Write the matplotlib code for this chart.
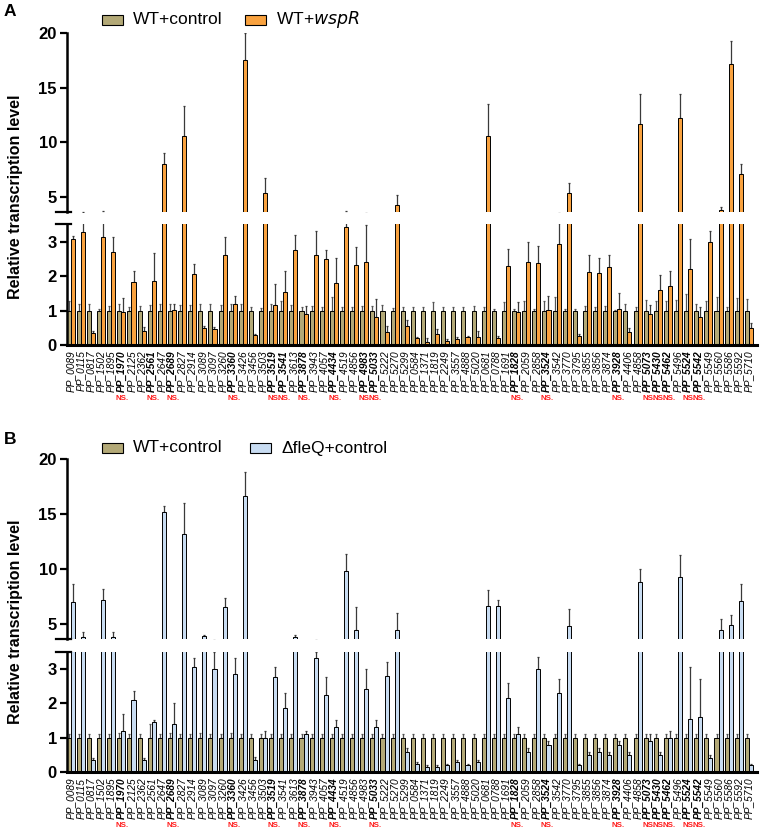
import matplotlib
matplotlib.use("Agg")
import matplotlib.pyplot as plt
from matplotlib.patches import Rectangle
from matplotlib.transforms import blended_transform_factory

plt.rcParams['font.family'] = ['Liberation Sans', 'DejaVu Sans']

genes = ["0089", "0115", "0817", "1502", "1895", "1970", "2125", "2362", "2561", "2647",
         "2689", "2827", "2914", "3089", "3097", "3260", "3360", "3426", "3456", "3503",
         "3519", "3541", "3613", "3878", "3943", "4057", "4434", "4519", "4856", "4983",
         "5033", "5222", "5270", "5299", "0584", "1371", "1819", "2249", "3557", "4888",
         "5020", "0681", "0788", "1691", "1828", "2059", "2858", "3524", "3542", "3770",
         "3795", "3855", "3856", "3874", "3928", "4406", "4858", "5073", "5430", "5462",
         "5496", "5524", "5542", "5549", "5560", "5586", "5592", "5710"]

ns_A = ["1970", "2561", "2689", "3360", "3519", "3541", "3878", "4434", "4983", "5033",
        "1828", "3524", "3928", "5073", "5430", "5462", "5524", "5542"]
ns_B = ["1970", "2689", "3360", "3519", "3878", "4434", "5033",
        "1828", "3524", "3928", "5073", "5430", "5462", "5524", "5542"]

control = [1.0, 1.0, 1.0, 1.0, 1.0, 1.0, 1.0, 1.0, 1.0, 1.0, 1.0, 1.0, 1.0, 1.0, 1.0, 1.0, 1.0,
           1.0, 1.0, 1.0, 1.0, 1.0, 1.0, 1.0, 1.0, 1.0, 1.0, 1.0, 1.0, 1.0, 1.0, 1.0, 1.0, 1.0,
           1.0, 1.0, 1.0, 1.0, 1.0, 1.0, 1.0, 1.0, 1.0, 1.0, 1.0, 1.0, 1.0, 1.0, 1.0, 1.0, 1.0,
           1.0, 1.0, 1.0, 1.0, 1.0, 1.0, 1.0, 1.0, 1.0, 1.0, 1.0, 1.0, 1.0, 1.0, 1.0, 1.0, 1.0]

ctrl_err_A = [0.27, 0.18, 0.18, 0.03, 0.13, 0.2, 0.1, 0.13, 0.15, 0.2,
              0.2, 0.17, 0.15, 0.18, 0.2, 0.15, 0.2, 0.18, 0.1, 0.08,
              0.2, 0.28, 0.15, 0.1, 0.12, 0.1, 0.38, 0.1, 0.1, 0.13,
              0.13, 0.15, 0.08, 0.1, 0.1, 0.1, 0.25, 0.1, 0.1, 0.1,
              0.13, 0.1, 0.05, 0.25, 0.05, 0.27, 0.05, 0.27, 0.38, 0.05,
              0.05, 0.13, 0.1, 0.13, 0.02, 0.2, 0.1, 0.3, 0.27, 0.27,
              0.3, 0.48, 0.2, 0.28, 0.4, 0.1, 0.37, 0.33]
wspR = [3.07, 3.28, 0.34, 3.12, 2.7, 0.95, 1.83, 0.42, 1.86, 8.0,
        1.02, 10.6, 2.06, 0.49, 0.46, 2.6, 1.2, 17.5, 0.3, 5.3,
        1.15, 1.54, 2.76, 0.91, 2.62, 2.48, 1.81, 3.43, 2.33, 2.42,
        0.8, 0.37, 4.2, 0.54, 0.2, 0.1, 0.31, 0.12, 0.18, 0.22,
        0.22, 10.6, 0.2, 2.28, 0.95, 2.42, 2.37, 1.01, 2.94, 5.3,
        0.26, 2.11, 2.08, 2.25, 1.03, 0.39, 11.7, 0.91, 1.59, 1.71,
        12.2, 2.19, 0.81, 2.99, 3.75, 17.2, 7.1, 0.49]
wspR_err = [0.08, 0.35, 0.06, 0.6, 0.44, 0.41, 0.33, 0.1, 0.81, 1.0,
            0.18, 2.7, 0.29, 0.06, 0.07, 0.54, 0.22, 2.5, 0.03, 1.4,
            0.61, 0.62, 0.44, 0.22, 0.69, 0.27, 0.72, 0.3, 0.51, 1.06,
            0.52, 0.19, 1.0, 0.18, 0.04, 0.1, 0.15, 0.04, 0.04, 0.03,
            0.2, 2.9, 0.05, 0.49, 0.3, 0.57, 0.5, 0.41, 0.59, 1.0,
            0.06, 0.51, 0.45, 0.35, 0.47, 0.1, 2.7, 0.24, 0.45, 0.45,
            2.2, 0.88, 0.3, 0.32, 0.3, 2.1, 0.9, 0.15]

ctrl_err_B = [0.12, 0.1, 0.1, 0.1, 0.1, 0.15, 0.1, 0.1, 0.4, 0.1,
              0.15, 0.1, 0.1, 0.15, 0.1, 0.1, 0.15, 0.1, 0.1, 0.1,
              0.1, 0.1, 0.1, 0.1, 0.1, 0.1, 0.1, 0.1, 0.1, 0.1,
              0.1, 0.1, 0.1, 0.1, 0.1, 0.1, 0.1, 0.1, 0.1, 0.1,
              0.1, 0.1, 0.1, 0.1, 0.1, 0.1, 0.1, 0.1, 0.1, 0.1,
              0.1, 0.1, 0.1, 0.1, 0.1, 0.1, 0.1, 0.1, 0.1, 0.1,
              0.1, 0.1, 0.1, 0.1, 0.1, 0.1, 0.1, 0.1]
fleQ = [7.0, 3.8, 0.35, 7.2, 3.8, 1.2, 2.1, 0.35, 1.45, 15.2,
        1.4, 13.2, 3.05, 3.9, 3.0, 6.5, 2.85, 16.7, 0.35, 1.0,
        2.75, 1.85, 3.8, 1.1, 3.3, 2.25, 1.3, 9.8, 4.4, 2.4,
        1.3, 2.8, 4.4, 0.6, 0.25, 0.15, 0.15, 0.2, 0.3, 0.2,
        0.3, 6.6, 6.6, 2.15, 1.1, 0.6, 3.0, 0.8, 2.3, 4.8,
        0.2, 0.5, 0.6, 0.5, 0.8, 0.5, 8.8, 0.9, 0.5, 1.0,
        9.3, 1.55, 1.6, 0.4, 4.4, 4.9, 7.1, 0.2]
fleQ_err = [1.6, 0.5, 0.05, 1.0, 0.5, 0.5, 0.25, 0.05, 0.05, 0.5,
            0.6, 2.8, 0.25, 0.1, 0.5, 0.9, 0.45, 2.1, 0.1, 0.2,
            0.3, 0.45, 0.2, 0.1, 0.2, 0.5, 0.2, 1.6, 2.1, 0.6,
            0.2, 0.4, 1.6, 0.1, 0.05, 0.05, 0.05, 0.05, 0.05, 0.05,
            0.05, 1.5, 0.6, 0.45, 0.2, 0.1, 0.35, 0.1, 0.4, 1.6,
            0.05, 0.1, 0.1, 0.1, 0.1, 0.1, 1.2, 0.2, 0.1, 0.2,
            2.0, 1.5, 1.1, 0.1, 1.0, 0.9, 1.5, 0.05]

W, H = 760, 832
fig = plt.figure(figsize=(W / 100, H / 100), dpi=100)

CTRL_C = '#b3a977'
ORANGE_C = '#f9a23f'
BLUE_C = '#c8dcf2'
ERR_C = '#3a3a3a'


def fy(py):
    return 1 - py / H


def make_panel(y_top, y_up_bot, y_lo_top, y_lo_bot, treat, treat_err, ctrl_err, tcolor, ns):
    left = 66.7 / W
    width = 690.3 / W
    ax_u = fig.add_axes([left, fy(y_up_bot), width, fy(y_top) - fy(y_up_bot)])
    ax_l = fig.add_axes([left, fy(y_lo_bot), width, fy(y_lo_top) - fy(y_lo_bot)])
    x = list(range(len(genes)))
    xc = [i - 0.2 for i in x]
    xt = [i + 0.2 for i in x]
    for ax in (ax_u, ax_l):
        ax.errorbar(xc, control, yerr=[[0] * len(x), ctrl_err], fmt='none',
                    ecolor='#555555', elinewidth=0.9, capsize=0.8, capthick=0.9, zorder=1)
        ax.errorbar(xt, treat, yerr=[[0] * len(x), treat_err], fmt='none',
                    ecolor=ERR_C, elinewidth=0.9, capsize=0.8, capthick=0.9, zorder=1)
        ax.bar(xc, control, width=0.4, color=CTRL_C, edgecolor='black', linewidth=0.7, zorder=2)
        ax.bar(xt, treat, width=0.4, color=tcolor, edgecolor='black', linewidth=0.7, zorder=2)
        ax.set_xlim(-0.4, 67.8)
        for s in ('top', 'right'):
            ax.spines[s].set_visible(False)
        ax.spines['left'].set_linewidth(1.8)
        ax.tick_params(axis='y', length=5, width=1.6, labelsize=12, pad=2)
    ax_u.set_ylim(3.63, 20)
    ax_u.set_yticks([5, 10, 15, 20])
    ax_u.spines['bottom'].set_visible(False)
    ax_u.set_xticks([])
    ax_l.set_ylim(0, 3.5)
    ax_l.set_yticks([0, 1, 2, 3])
    ax_l.spines['bottom'].set_linewidth(2.2)
    for ax in (ax_u, ax_l):
        for lab in ax.get_yticklabels():
            lab.set_fontweight('bold')
    # break marks
    ax_u.plot([-0.016, 0.006], [0, 0], transform=ax_u.transAxes, color='black', lw=1.6, clip_on=False)
    ax_l.plot([-0.016, 0.006], [1, 1], transform=ax_l.transAxes, color='black', lw=1.6, clip_on=False)
    ax_l.set_xticks(x)
    ax_l.set_xticklabels(["PP_" + g for g in genes], rotation=90, fontsize=7.3, style='italic')
    ax_l.tick_params(axis='x', length=0, pad=4)
    for lab, g in zip(ax_l.get_xticklabels(), genes):
        if g in ns:
            lab.set_fontweight('bold')
    tr = blended_transform_factory(ax_l.transData, fig.transFigure)
    for i, g in enumerate(genes):
        if g in ns:
            ax_l.text(i + 0.1, fy(y_lo_bot + 53), "NS.", transform=tr, color='#ff1a1a',
                      fontsize=5.7, fontweight='bold', ha='center', va='center')
    return ax_u, ax_l


make_panel(33, 211.7, 224.3, 345, wspR, wspR_err, ctrl_err_A, ORANGE_C, ns_A)
make_panel(459.3, 638.9, 651.5, 772.2, fleQ, fleQ_err, ctrl_err_B, BLUE_C, ns_B)

# Y labels
fig.text(16 / W, fy(197), "Relative transcription level", rotation=90, fontsize=11.5,
         fontweight='bold', ha='center', va='center')
fig.text(16 / W, fy(622), "Relative transcription level", rotation=90, fontsize=11.5,
         fontweight='bold', ha='center', va='center')

# Panel letters
fig.text(4 / W, fy(12), "A", fontsize=12.5, fontweight='bold', ha='left', va='center')
fig.text(4 / W, fy(440), "B", fontsize=12.5, fontweight='bold', ha='left', va='center')


def legend_item(px, py, color, label):
    fig.patches.append(Rectangle((px / W, fy(py + 5)), 21 / W, 10 / H, transform=fig.transFigure,
                                 facecolor=color, edgecolor='black', linewidth=0.8))
    fig.text((px + 31) / W, fy(py), label, fontsize=12.5, ha='left', va='center')


legend_item(102, 20, CTRL_C, "WT+control")
legend_item(245, 20, ORANGE_C, "WT+$\\it{wspR}$")
legend_item(102, 448, CTRL_C, "WT+control")
legend_item(250, 448, BLUE_C, "\u0394fleQ+control")

fig.savefig("out.png", dpi=100)
